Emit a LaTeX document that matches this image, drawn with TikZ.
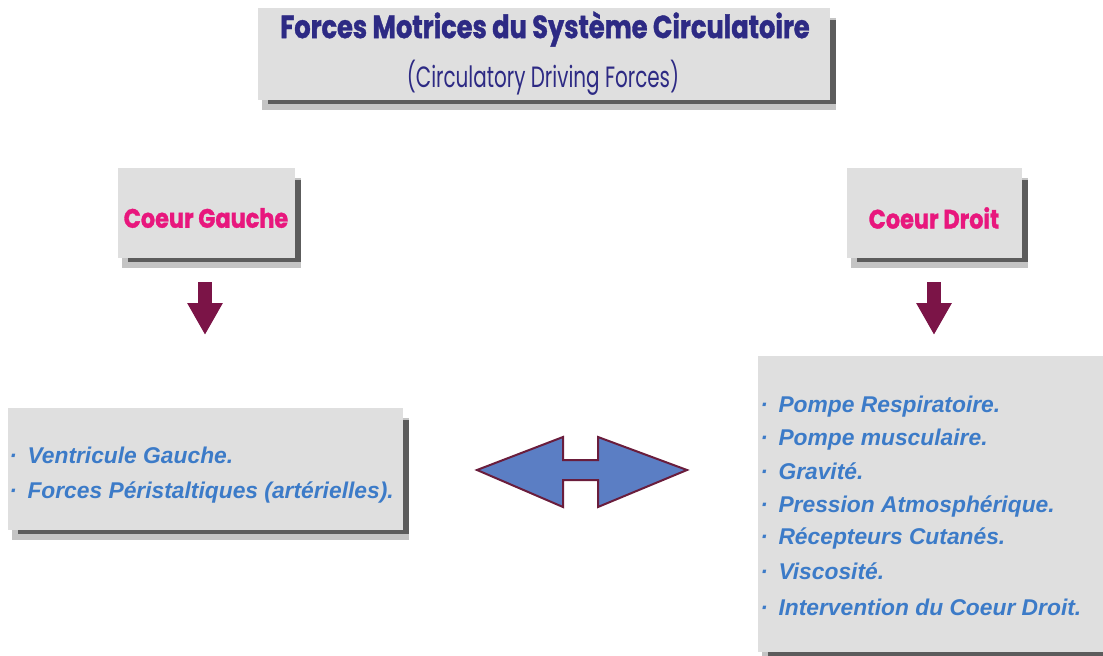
\documentclass[tikz,border=0pt]{standalone}
\usepackage{fontspec}
\setmainfont{Liberation Sans}
\newfontfamily\titlefont[FakeStretch=0.80,FakeBold=1.2]{Poppins}
\newfontfamily\subfont[FakeStretch=0.68]{Poppins}
\newfontfamily\heartfont[FakeStretch=0.84,FakeBold=1.2]{Poppins}
\usetikzlibrary{arrows.meta,fit}
\definecolor{panelgray}{HTML}{DFDFDF}
\definecolor{shdarkc}{HTML}{5C5C5C}
\definecolor{shlightc}{HTML}{C4C4C4}
\definecolor{navy}{HTML}{2D2A84}
\definecolor{pinkc}{HTML}{E8177D}
\definecolor{itemblue}{HTML}{3C7BC8}
\definecolor{maroon}{HTML}{7B1447}
\definecolor{arrowblue}{HTML}{5B7EC4}
\definecolor{arrowedge}{HTML}{6A1D3C}
\tikzset{
  panel/.style={fill=panelgray, draw=none, inner sep=0pt, rectangle},
  titletext/.style={font=\titlefont\fontsize{24}{28}\selectfont\bfseries, text=navy, inner sep=0pt},
  subtext/.style={font=\subfont\fontsize{22}{26}\selectfont, text=navy, inner sep=0pt},
  heart/.style={font=\heartfont\fontsize{20}{24}\selectfont\bfseries, text=pinkc, inner sep=0pt},
  item/.style={font=\fontsize{17.1}{20}\selectfont\bfseries\itshape, text=itemblue, inner sep=0pt, anchor=west},
  downarrow/.style={draw=maroon, line width=10.5pt, -{Triangle[width=25pt,length=24pt]}},
}
\newcommand{\shadowedbox}[5]{%
  \fill[shlightc] (#2+4,#3+10) rectangle (#4+6,#5+10);
  \fill[shdarkc] (#2+10,#3+12) rectangle (#4+6,#5+4);
  \node[panel, fit={(#2,#3) (#4,#5)}] (#1) {};
}
\begin{document}
\begin{tikzpicture}[x=0.75pt,y=-0.75pt]
\useasboundingbox (0,0) rectangle (1103,656);
% boxes
\shadowedbox{title}{258}{8}{830}{100}
\shadowedbox{cg}{118}{168}{295}{258}
\shadowedbox{cd}{847}{168}{1022}{258}
\shadowedbox{lb}{8}{408}{403}{530}
\shadowedbox{rb}{758}{356}{1110}{652}
% title texts
\node[titletext] (t1) at (545,29) {Forces Motrices du Système Circulatoire};
\node[subtext] (t2) at (543,78) {(Circulatory Driving Forces)};
\node[heart] (cgt) at (206,218) {Coeur Gauche};
\node[heart] (cdt) at (934,218) {Coeur Droit};
% down arrows
\coordinate (ga) at (205,282);
\coordinate (gb) at (205,335);
\coordinate (da) at (934,282);
\coordinate (db) at (934,335);
\draw[downarrow] (ga) -- (gb);
\draw[downarrow] (da) -- (db);
% left items
\node[item] (l1) at (9,455) {·\hspace{8pt}Ventricule Gauche.};
\node[item] (l2) at (9,493) {·\hspace{8pt}Forces Péristaltiques (artérielles).};
% right items
\node[item] (r1) at (760,407) {·\hspace{8pt}Pompe Respiratoire.};
\node[item] (r2) at (760,440) {·\hspace{8pt}Pompe musculaire.};
\node[item] (r3) at (760,471) {·\hspace{8pt}Gravité.};
\node[item] (r4) at (760,507) {·\hspace{8pt}Pression Atmosphérique.};
\node[item] (r5) at (760,539) {·\hspace{8pt}Récepteurs Cutanés.};
\node[item] (r6) at (760,571) {·\hspace{8pt}Viscosité.};
\node[item] (r7) at (760,607) {·\hspace{8pt}Intervention du Coeur Droit.};
% double arrow
\draw[fill=arrowblue, draw=arrowedge, line width=1.5pt, line join=miter]
  (477,470) -- (563,437) -- (563,460) -- (598,460) -- (598,437) -- (687,470)
  -- (598,507) -- (598,480) -- (563,480) -- (563,507) -- cycle;
\end{tikzpicture}
\end{document}
